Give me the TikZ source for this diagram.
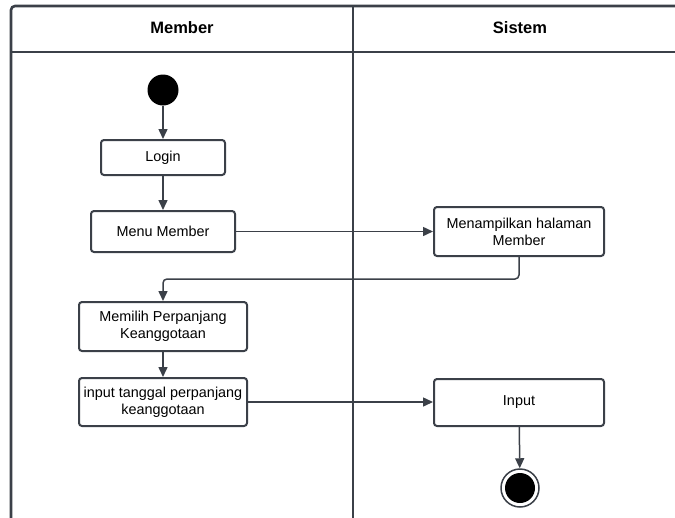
\documentclass[tikz,border=0pt]{standalone}
\usepackage{fontspec}
\setmainfont{Liberation Sans}
\usetikzlibrary{arrows.meta}
\definecolor{ink}{HTML}{3B4048}
\tikzset{
  x=1pt, y=-1pt,
  lane/.style={draw=ink, line width=2.6pt},
  act/.style={draw=ink, line width=2pt, rounded corners=3pt, fill=white,
    align=center, font=\fontsize{14.4}{17}\selectfont, inner sep=0pt},
  flow/.style={draw=ink, line width=1.5pt, rounded corners=4pt,
    -{Triangle[width=9pt,length=10pt]}},
  hdr/.style={font=\bfseries\fontsize{16.5}{19}\selectfont}
}
\begin{document}
\begin{tikzpicture}
\useasboundingbox (0,0) rectangle (675,517);
\begin{scope}
\clip (0,0) rectangle (675,517);
% swimlane frame
\draw[lane, rounded corners=4pt] (11,530) -- (11,6) -- (690,6);
\draw[lane] (11,52) -- (690,52);
\draw[lane] (353,6) -- (353,530);
\end{scope}
\node[hdr] (hm) at (182,28) {Member};
\node[hdr] (hs) at (520,28) {Sistem};

% start and end
\node[circle, fill=black, minimum size=31pt, inner sep=0pt] (start) at (163,90) {};
\node[circle, draw=ink, line width=1.5pt, minimum size=38pt, inner sep=0pt] (endo) at (520,488) {};
\node[circle, fill=black, minimum size=30pt, inner sep=0pt] (endi) at (520,488) {};

% activities
\node[act, minimum width=124pt, minimum height=35pt] (login) at (163,157.5) {Login};
\node[act, minimum width=144pt, minimum height=41pt] (menu) at (163,231.5) {Menu Member};
\node[act, minimum width=170pt, minimum height=49pt] (tampil) at (519,231.5) {Menampilkan halaman\\Member};
\node[act, minimum width=168pt, minimum height=49pt] (pilih) at (163,326.5) {Memilih Perpanjang\\Keanggotaan};
\node[act, minimum width=168pt, minimum height=48pt] (tgl) at (163,402) {input tanggal perpanjang\\keanggotaan};
\node[act, minimum width=170pt, minimum height=47pt] (inp) at (519,402.5) {Input};

% control flow
\draw[flow] (start) -- (login);
\draw[flow] (login) -- (menu);
\draw[flow] (menu.east) -- (menu.east -| tampil.west);
\draw[flow] (tampil.south) -- (519,279) -- (163,279) -- (pilih.north);
\draw[flow] (pilih) -- (tgl);
\draw[flow] (tgl.east) -- (tgl.east -| inp.west);
\draw[flow] (inp) -- (endo);
\end{tikzpicture}
\end{document}
